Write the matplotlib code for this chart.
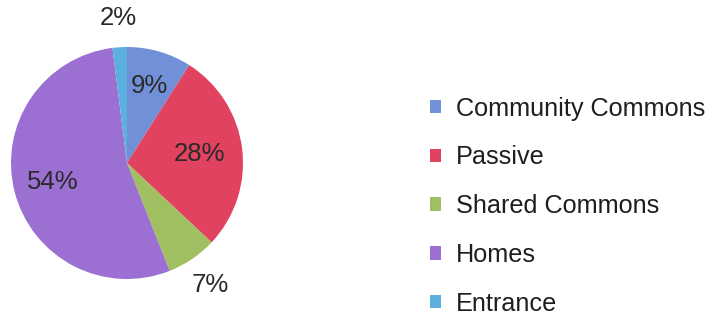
import numpy as np
import matplotlib
matplotlib.use('Agg')
import matplotlib.pyplot as plt

plt.rcParams['font.family'] = ['Liberation Sans', 'DejaVu Sans']

categories = ['Community Commons', 'Passive', 'Shared Commons', 'Homes', 'Entrance']
shares = [9, 28, 7, 54, 2]
colors = ['#7190d8', '#e0425f', '#9fbf60', '#9b70d2', '#5cb0e0']
# how far from the centre each percentage sits (1.0 = rim)
label_radius = [0.69, 0.63, 1.27, 0.66, 1.25]

fig = plt.figure(figsize=(7.17, 3.21), dpi=100)
fig.patch.set_facecolor('white')

ax = fig.add_axes([11 / 717, 42 / 321, 232 / 717, 232 / 321])
wedges, _ = ax.pie(shares, colors=colors, startangle=90, counterclock=False,
                   radius=1.0, wedgeprops=dict(linewidth=0))
ax.set_xlim(-1, 1)
ax.set_ylim(-1, 1)
ax.set_aspect('equal')
ax.axis('off')

for wedge, value, r in zip(wedges, shares, label_radius):
    mid = np.deg2rad((wedge.theta1 + wedge.theta2) / 2)
    ax.text(r * np.cos(mid), r * np.sin(mid), f'{value}%',
            ha='center', va='center', fontsize=18.5, color='#2a2a2a', clip_on=False)

leg = fig.legend(wedges, categories, loc='center left',
                 bbox_to_anchor=(417 / 717, 0.358), frameon=False,
                 fontsize=18.2, handlelength=0.45, handleheight=0.45,
                 handletextpad=0.6, labelspacing=0.98, borderpad=0)
for t in leg.get_texts():
    t.set_color('#1e1e1e')

fig.savefig('out.png', dpi=100, facecolor='white')
